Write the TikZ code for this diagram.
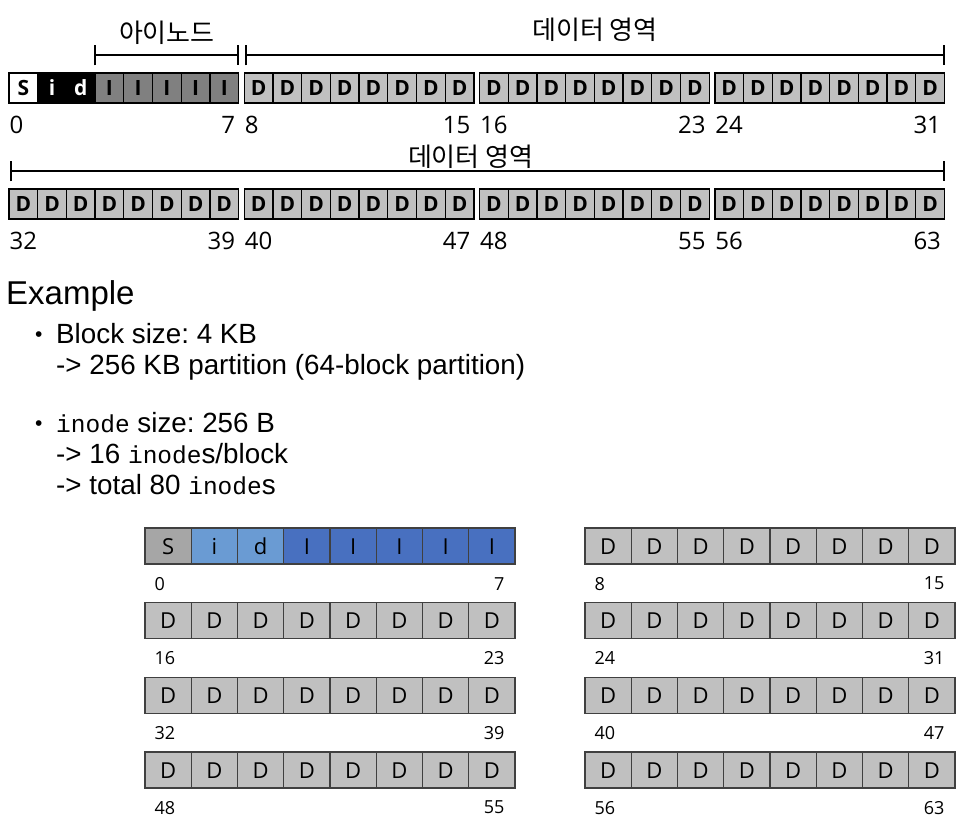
\documentclass[tikz,border=0pt]{standalone}
\usepackage{fontspec}
\setmainfont{Open Sans}
\newfontfamily\kor{Noto Sans CJK KR}
\newfontfamily\arial{Liberation Sans}
\newfontfamily\cour{Liberation Mono}
\usetikzlibrary{arrows.meta,positioning}
\definecolor{dfill}{RGB}{192,192,192}
\definecolor{ifill}{RGB}{128,128,128}
\definecolor{sfill}{RGB}{166,166,166}
\definecolor{lblue}{RGB}{106,155,211}
\definecolor{dblue}{RGB}{72,112,192}
\definecolor{edge}{RGB}{64,64,64}
\newcommand{\fs}[1]{\fontsize{#1}{#1}\selectfont}
\frenchspacing

\begin{document}
\begin{tikzpicture}[x=1pt, y=-1pt,
  tcell/.style={draw, line width=1.3pt, fill=dfill, minimum width=28.7pt,
                minimum height=30pt, inner sep=0pt, text height=15pt,
                text depth=0pt, font=\fs{21}\bfseries},
  supcell/.style={tcell, fill=white},
  bitcell/.style={tcell, fill=black, text=white},
  inocell/.style={tcell, fill=ifill},
  bcell/.style={draw=edge, line width=1.2pt, fill=dfill, minimum width=46.25pt,
                minimum height=36pt, inner sep=0pt, text height=16pt,
                text depth=0pt, font=\fs{22}},
  bsup/.style={bcell, fill=sfill},
  bbit/.style={bcell, fill=lblue},
  bino/.style={bcell, fill=dblue},
  tnum/.style={inner sep=1pt, font=\fs{24}},
  bnum/.style={inner sep=1pt, font=\fs{18}},
  brk/.style={{Bar[width=20pt]}-{Bar[width=20pt]}, line width=2pt},
  klabel/.style={font=\kor\fs{26}},
  txt/.style={anchor=base west, inner sep=0pt, font=\arial\fs{27.8}},
  bul/.style={anchor=base west, inner sep=0pt, font=\arial\fs{21}}
]
\useasboundingbox (0,0) rectangle (978,838);

% top layout, first row
\foreach \c/\t/\s in {0/S/supcell, 1/i/bitcell, 2/d/bitcell, 3/I/inocell,
                      4/I/inocell, 5/I/inocell, 6/I/inocell, 7/I/inocell}
  \node[\s] (t0-\c) at ({23.35+\c*28.7}, 88) {\t};
\foreach \g in {1,2,3}
  \foreach \c in {0,...,7}
    \node[tcell] (t\g-\c) at ({23.35+\g*235.3+\c*28.7}, 88) {D};
% second row
\foreach \g in {4,...,7}
  \foreach \c in {0,...,7}
    \node[tcell] (t\g-\c) at ({23.35+(\g-4)*235.3+\c*28.7}, 204) {D};

\foreach \g in {0,...,7}{
  \pgfmathtruncatemacro{\lo}{8*\g}
  \pgfmathtruncatemacro{\hi}{8*\g+7}
  \node[tnum, anchor=west] (n\g a) at ([yshift=-21pt]t\g-0.south west) {\lo};
  \node[tnum, anchor=east] (n\g b) at ([xshift=-3pt, yshift=-21pt]t\g-7.south east) {\hi};
}

% brackets
\coordinate (ia) at ([yshift=17pt]t0-3.north west);
\coordinate (ib) at ([yshift=17pt]t0-7.north east);
\coordinate (da) at ([xshift=1pt, yshift=17pt]t1-0.north west);
\coordinate (db) at ([yshift=17pt]t3-7.north east);
\coordinate (ea) at ([xshift=2pt, yshift=17pt]t4-0.north west);
\coordinate (eb) at ([yshift=17pt]t7-7.north east);
\draw[brk] (ia) -- node[klabel, yshift=23pt] (kino) {아이노드} (ib);
\draw[brk] (da) -- node[klabel, yshift=26pt] (kdat1) {데이터 영역} (db);
\draw[brk] (ea) -- node[klabel, xshift=-7pt, yshift=15pt] (kdat2) {데이터 영역} (eb);

% example text
\node[anchor=base west, inner sep=0pt, font=\arial\fs{33}] (ex) at (6, 304) {Example};
\node[bul] (dot1) at (35, 341) {•};
\node[txt] (b1a) at (56, 343) {Block size: 4 KB};
\node[txt] (b1b) at (56, 374) {-> 256 KB partition (64-block partition)};
\node[bul] (dot2) at (35, 430) {•};
\node[txt] (b2a) at (56, 432) {{\cour\fs{24.5}inode} size: 256 B};
\node[txt] (b2b) at (56, 463) {-> 16 {\cour\fs{24.5}inode}s/block};
\node[txt] (b2c) at (56, 494) {-> total 80 {\cour\fs{24.5}inode}s};

% example layout
\foreach \c/\t/\s in {0/S/bsup, 1/i/bbit, 2/d/bbit, 3/I/bino,
                      4/I/bino, 5/I/bino, 6/I/bino, 7/I/bino}
  \node[\s] (b0-\c) at ({168.125+\c*46.25}, 546) {\t};
\foreach \k in {1,...,7}{
  \pgfmathtruncatemacro{\r}{int(\k/2)}
  \pgfmathtruncatemacro{\h}{mod(\k,2)}
  \foreach \c in {0,...,7}
    \node[bcell] (b\k-\c) at ({168.125+\h*440+\c*46.25}, {546+\r*74.67}) {D};
}
\foreach \k in {0,...,7}{
  \pgfmathtruncatemacro{\lo}{8*\k}
  \pgfmathtruncatemacro{\hi}{8*\k+7}
  \node[bnum, anchor=west] (m\k a) at ([xshift=9pt, yshift=-19pt]b\k-0.south west) {\lo};
  \node[bnum, anchor=east] (m\k b) at ([xshift=-10pt, yshift=-19pt]b\k-7.south east) {\hi};
}
\end{tikzpicture}
\end{document}
